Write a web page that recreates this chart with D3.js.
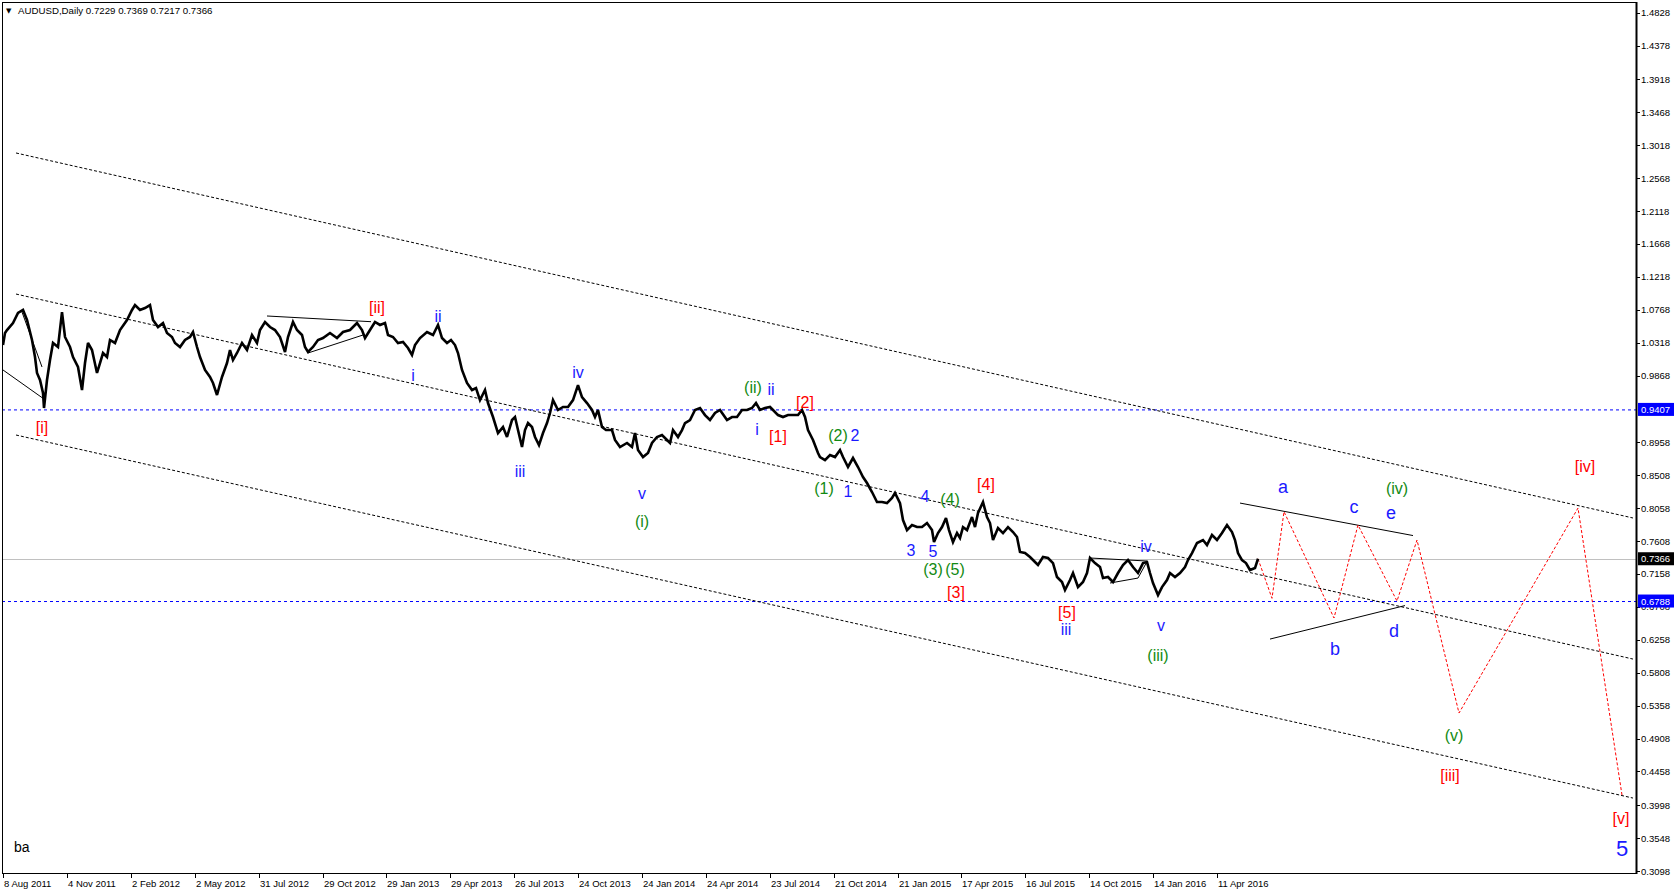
<!DOCTYPE html>
<html><head><meta charset="utf-8">
<script src="https://cdn.jsdelivr.net/npm/d3@7/dist/d3.min.js"></script>
<style>html,body{margin:0;padding:0;background:#fff;}svg{display:block;}</style>
</head><body>
<script>
// ---------- DATA ----------
const symbolTitle = "AUDUSD,Daily  0.7229 0.7369 0.7217 0.7366";
const xTickBars = [0,64,128,192,256,320,383,447,511,575,639,703,767,831,895,958,1022,1086,1150,1214];
const xTickLabels = ["8 Aug 2011","4 Nov 2011","2 Feb 2012","2 May 2012","31 Jul 2012","29 Oct 2012","29 Jan 2013","29 Apr 2013","26 Jul 2013","24 Oct 2013","24 Jan 2014","24 Apr 2014","23 Jul 2014","21 Oct 2014","21 Jan 2015","17 Apr 2015","16 Jul 2015","14 Oct 2015","14 Jan 2016","11 Apr 2016"];
const yTickLabels = ["1.4828","1.4378","1.3918","1.3468","1.3018","1.2568","1.2118","1.1668","1.1218","1.0768","1.0318","0.9868","0.8958","0.8508","0.8058","0.7608","0.7158","0.6708","0.6258","0.5808","0.5358","0.4908","0.4458","0.3998","0.3548","0.3098"];

// daily close path (bar index, price)
const priceBars = [0,2,4,10,15,20,24,29,32,34,37,40,41,44,47,50,55,59,62,67,70,75,79,82,85,89,94,97,100,104,107,112,117,124,129,132,137,142,147,150,155,160,164,169,172,177,182,187,190,194,197,202,207,210,214,219,224,227,230,234,239,244,249,254,257,262,267,272,277,282,285,290,294,299,302,305,310,315,320,327,334,340,347,354,359,362,367,372,377,382,385,390,395,400,405,409,412,417,424,430,435,439,444,448,452,455,459,464,469,473,477,482,485,490,495,500,504,509,512,515,519,522,525,529,532,536,540,544,547,550,555,560,565,570,575,579,584,589,592,595,599,603,609,612,617,624,629,632,635,640,645,649,654,659,664,667,670,675,679,682,687,692,697,702,707,712,717,724,729,734,739,744,749,753,757,762,767,770,775,780,785,790,795,799,802,805,810,815,817,822,827,832,837,840,845,850,855,860,864,869,874,879,884,889,892,897,900,904,909,914,919,924,929,931,935,939,943,946,950,954,957,960,964,969,972,975,980,984,987,990,995,1000,1005,1010,1014,1017,1022,1027,1032,1035,1040,1045,1050,1054,1059,1062,1067,1070,1075,1080,1084,1087,1092,1097,1100,1105,1110,1115,1120,1125,1130,1135,1140,1144,1147,1150,1155,1159,1164,1167,1172,1177,1182,1185,1189,1194,1200,1204,1209,1214,1219,1224,1229,1232,1235,1239,1243,1247,1252,1255];
const priceValues = [1.0287,1.0451,1.0492,1.0588,1.0725,1.0766,1.0629,1.0356,1.0123,0.9905,0.9809,0.9631,0.9426,0.9809,1.0082,1.0315,1.0260,1.0738,1.0397,1.0260,1.0123,0.9987,0.9672,1.0041,1.0315,1.0219,0.9905,1.0041,1.0178,1.0123,1.0356,1.0315,1.0492,1.0629,1.0766,1.0834,1.0766,1.0793,1.0834,1.0629,1.0533,1.0588,1.0451,1.0397,1.0315,1.0260,1.0356,1.0397,1.0465,1.0260,1.0123,0.9946,0.9850,0.9768,0.9604,0.9850,1.0041,1.0219,1.0082,1.0178,1.0315,1.0219,1.0424,1.0315,1.0492,1.0602,1.0533,1.0492,1.0397,1.0192,1.0397,1.0602,1.0492,1.0424,1.0260,1.0192,1.0260,1.0356,1.0383,1.0451,1.0383,1.0465,1.0492,1.0588,1.0492,1.0383,1.0492,1.0602,1.0561,1.0588,1.0424,1.0397,1.0315,1.0328,1.0246,1.0151,1.0287,1.0383,1.0465,1.0424,1.0561,1.0383,1.0315,1.0356,1.0287,1.0178,0.9946,0.9768,0.9672,0.9699,0.9535,0.9672,0.9494,0.9303,0.9084,0.9166,0.9030,0.9262,0.9303,0.9125,0.8893,0.9125,0.9221,0.9166,0.9030,0.8920,0.9084,0.9221,0.9358,0.9535,0.9399,0.9440,0.9440,0.9535,0.9740,0.9576,0.9494,0.9399,0.9303,0.9399,0.9166,0.9125,0.9125,0.8989,0.8893,0.8948,0.8893,0.9084,0.8852,0.8756,0.8811,0.8948,0.9030,0.9057,0.8989,0.8948,0.9125,0.9030,0.9125,0.9221,0.9262,0.9399,0.9426,0.9330,0.9262,0.9358,0.9399,0.9262,0.9303,0.9303,0.9399,0.9399,0.9426,0.9494,0.9399,0.9426,0.9440,0.9399,0.9330,0.9303,0.9330,0.9330,0.9330,0.9399,0.9303,0.9125,0.8989,0.8811,0.8756,0.8715,0.8784,0.8756,0.8852,0.8756,0.8620,0.8743,0.8620,0.8483,0.8401,0.8278,0.8141,0.8141,0.8127,0.8196,0.8264,0.8127,0.7895,0.7758,0.7827,0.7799,0.7799,0.7854,0.7758,0.7594,0.7717,0.7799,0.7922,0.7758,0.7594,0.7717,0.7649,0.7799,0.7758,0.7936,0.7799,0.7991,0.8141,0.7936,0.7854,0.7622,0.7786,0.7717,0.7799,0.7731,0.7663,0.7458,0.7444,0.7389,0.7321,0.7280,0.7389,0.7376,0.7307,0.7116,0.7048,0.6938,0.7075,0.7171,0.6979,0.7048,0.7171,0.7376,0.7307,0.7253,0.7102,0.7116,0.7048,0.7171,0.7280,0.7348,0.7253,0.7171,0.7307,0.7321,0.7171,0.7034,0.6870,0.6979,0.7075,0.7171,0.7116,0.7171,0.7253,0.7348,0.7444,0.7581,0.7622,0.7553,0.7690,0.7622,0.7717,0.7827,0.7731,0.7622,0.7444,0.7348,0.7307,0.7212,0.7239,0.7366];

// projected (red dotted) path
const projBars   = [1255,1269,1281,1331,1355,1394,1414,1456,1575,1619];
const projValues = [0.7366,0.6825,0.8009,0.6556,0.7827,0.6788,0.7622,0.5257,0.8059,0.4136];

// dotted channel lines [bar1, price1, bar2, price2]
const channelLines = [[13,1.2912,1630,0.7923],[13,1.0984,1630,0.5995],[13,0.9057,1630,0.4095]];
// solid trend / triangle lines
const trendLines = [[0,0.9946,41,0.9549],[19,1.0738,39,0.9987],[264,1.0684,368,1.0606],[305,1.0178,360,1.0424],
  [1087,0.7376,1144,0.7335],[1107,0.7034,1135,0.7102],[1135,0.7102,1144,0.7328],
  [1237,0.8127,1410,0.7683],[1267,0.6268,1402,0.6726]];
// horizontal levels
const levelPrices = [0.9407,0.6788];
const bidPrice = 0.7366;

// wave labels
const waveText  = ["[i]","[ii]","[2]","[1]","[4]","[3]","[5]","[iv]","[iii]","[v]",
  "i","ii","iii","iv","v","i","ii","2","1","3","5","4","iii","iv","v","a","b","c","d","e","5",
  "(i)","(ii)","(1)","(2)","(4)","(3)","(5)","(iii)","(iv)","(v)"];
const waveBars  = [39,374,802,775,983,953,1064,1582,1447,1618,
  410,435,517,575,639,754,768,852,845,908,930,922,1063,1143,1158,1280,1332,1351,1391,1388,1619,
  639,750,821,835,947,930,952,1155,1394,1451];
const wavePrices= [0.9158,1.0796,0.9508,0.9043,0.8387,0.6911,0.6631,0.8620,0.4410,0.3811,
  0.9874,1.0678,0.8559,0.9918,0.8253,0.9129,0.9686,0.9057,0.8282,0.7478,0.7463,0.8223,0.6397,0.7537,0.6456,0.8341,0.6135,0.8077,0.6382,0.7991,0.3402,
  0.7873,0.9713,0.8326,0.9057,0.8179,0.7216,0.7216,0.6047,0.8326,0.4951];
const waveDegree= ["r","r","r","r","r","r","r","r","r","r",
  "b","b","b","b","b","b","b","b","b","b","b","b","b","b","b","B","B","B","B","B","big",
  "g","g","g","g","g","g","g","g","g","g"];

// ---------- DRAW ----------
const W = 1676, H = 894;
const L = 2, T = 2, R = 1636, B = 873;
const font = "'Liberation Sans', Arial, sans-serif";
const svg = d3.select("body").append("svg").attr("width", W).attr("height", H);
svg.append("rect").attr("width", W).attr("height", H).attr("fill", "#fff");

const x = d3.scaleLinear().domain([0, 1633]).range([3, 1636]);
const y = d3.scaleLinear().domain([0.3098, 1.4828]).range([871, 12.8]);

const plot = svg.append("g");
plot.append("clipPath").attr("id","clip").append("rect").attr("x",L).attr("y",T).attr("width",R-L).attr("height",B-T);
const g = plot.append("g").attr("clip-path","url(#clip)");

// horizontal levels
g.selectAll(".lvl").data(levelPrices).join("line")
  .attr("x1", L).attr("x2", R).attr("y1", d=>y(d)+0.5).attr("y2", d=>y(d)+0.5)
  .attr("stroke", "#0000ff").attr("stroke-width", 1).attr("stroke-dasharray", "3,3");
g.append("line").attr("x1", L).attr("x2", R).attr("y1", Math.round(y(bidPrice))+0.5).attr("y2", Math.round(y(bidPrice))+0.5)
  .attr("stroke", "#c0c0c0").attr("stroke-width", 1);

// channels
g.selectAll(".ch").data(channelLines).join("line")
  .attr("x1", d=>x(d[0])).attr("y1", d=>y(d[1])).attr("x2", d=>x(d[2])).attr("y2", d=>y(d[3]))
  .attr("stroke", "#000").attr("stroke-width", 1).attr("stroke-dasharray", "3,2");

// trend lines
g.selectAll(".tl").data(trendLines).join("line")
  .attr("x1", d=>x(d[0])).attr("y1", d=>y(d[1])).attr("x2", d=>x(d[2])).attr("y2", d=>y(d[3]))
  .attr("stroke", "#000").attr("stroke-width", 1);

// projection
const projLine = d3.line().x((d,i)=>x(projBars[i])).y((d,i)=>y(projValues[i]));
g.append("path").attr("d", projLine(projValues)).attr("fill","none")
  .attr("stroke","#ff0000").attr("stroke-width",1).attr("stroke-dasharray","3,2");

// price
const priceLine = d3.line().x((d,i)=>x(priceBars[i])).y((d,i)=>y(priceValues[i]));
g.append("path").attr("d", priceLine(priceValues)).attr("fill","none")
  .attr("stroke","#000").attr("stroke-width",2.6).attr("stroke-linejoin","miter").attr("stroke-miterlimit",3);

// wave labels
const colorOf = {r:"#ff0000", b:"#1a1aff", B:"#1a1aff", big:"#1a1aff", g:"#128a12"};
const sizeOf = {r:16, b:16, B:18, big:22, g:16};
g.selectAll(".wl").data(waveText).join("text")
  .attr("x", (d,i)=>x(waveBars[i])).attr("y", (d,i)=>y(wavePrices[i]))
  .attr("text-anchor","middle").attr("dominant-baseline","central")
  .attr("font-family", font).attr("font-size",(d,i)=>sizeOf[waveDegree[i]])
  .attr("fill",(d,i)=>colorOf[waveDegree[i]]).text(d=>d);

// title and note
svg.append("text").attr("x",6).attr("y",13).attr("font-family","'DejaVu Sans', sans-serif").attr("font-size",7).text("\u25BC");
svg.append("text").attr("x",18).attr("y",13.5).attr("font-family",font).attr("font-size",9.7).attr("fill","#000").text(symbolTitle);
svg.append("text").attr("x",14).attr("y",851.5).attr("font-family",font).attr("font-size",14).attr("fill","#000").text("ba");

// frame
svg.append("line").attr("x1",L+0.5).attr("x2",L+0.5).attr("y1",T).attr("y2",B).attr("stroke","#000");
svg.append("line").attr("x1",L).attr("x2",R).attr("y1",T+0.5).attr("y2",T+0.5).attr("stroke","#000");
svg.append("line").attr("x1",L).attr("x2",R+1).attr("y1",B+0.5).attr("y2",B+0.5).attr("stroke","#000");
svg.append("line").attr("x1",R+0.5).attr("x2",R+0.5).attr("y1",T).attr("y2",B+1).attr("stroke","#000").attr("stroke-width",2);

// y axis
const yAx = svg.append("g");
yAx.selectAll(".yt").data(yTickLabels).join("line")
  .attr("x1",R+1).attr("x2",R+4).attr("y1",d=>Math.round(y(+d))+0.5).attr("y2",d=>Math.round(y(+d))+0.5).attr("stroke","#000");
yAx.selectAll(".yl").data(yTickLabels).join("text")
  .attr("x",R+5).attr("y",d=>y(+d)).attr("dominant-baseline","central")
  .attr("font-family",font).attr("font-size",9.5).attr("fill","#000").text(d=>d);

// price markers
const markers = [{p:levelPrices[0], c:"#0000ff"},{p:bidPrice, c:"#000"},{p:levelPrices[1], c:"#0000ff"}];
markers.forEach(m=>{
  const yy = y(m.p);
  yAx.append("rect").attr("x",R+2).attr("y",yy-6.5).attr("width",W-R-4).attr("height",13).attr("fill",m.c);
  yAx.append("text").attr("x",R+5).attr("y",yy).attr("dominant-baseline","central")
    .attr("font-family",font).attr("font-size",9.5).attr("fill","#fff").text(m.p.toFixed(4));
});

// x axis
const xAx = svg.append("g");
xAx.selectAll(".xt").data(xTickBars).join("line")
  .attr("x1",d=>Math.round(x(d))+0.5).attr("x2",d=>Math.round(x(d))+0.5).attr("y1",B+1).attr("y2",B+5).attr("stroke","#000");
xAx.selectAll(".xl").data(xTickLabels).join("text")
  .attr("x",(d,i)=>x(xTickBars[i])+1).attr("y",887)
  .attr("font-family",font).attr("font-size",9.5).attr("fill","#000").text(d=>d);
</script>
</body></html>
